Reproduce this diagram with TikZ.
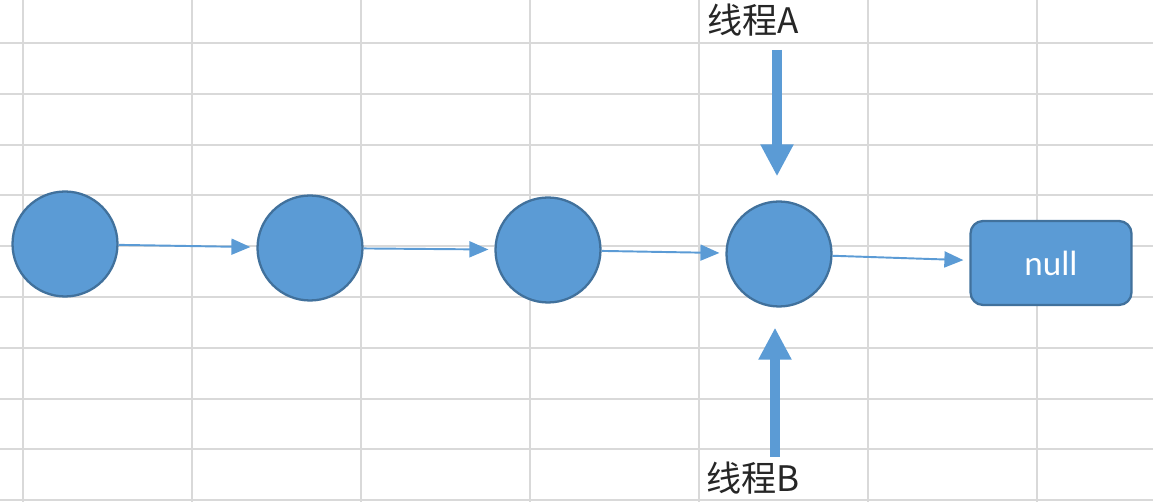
\documentclass[tikz,border=0pt]{standalone}
\usepackage{fontspec}
\setmainfont{Carlito}
\newfontfamily\cjk{Noto Sans CJK SC}
\usetikzlibrary{arrows.meta}
\definecolor{azul}{HTML}{5B9BD5}
\definecolor{borde}{HTML}{41719C}
\definecolor{rejilla}{HTML}{D9D9D9}
\begin{document}
\begin{tikzpicture}[x=0.02cm, y=-0.02cm, line join=round,
  nodo/.style={circle, fill=azul, draw=borde, line width=1.3pt, minimum size=2.1cm, inner sep=0pt},
  caja/.style={rectangle, rounded corners=0.25cm, fill=azul, draw=borde, line width=1.3pt,
    minimum width=3.22cm, minimum height=1.68cm, text=white, font=\fontsize{20}{24}\selectfont},
  hilo/.style={text=black!85, font=\cjk\fontsize{20}{24}\selectfont, inner sep=0pt},
  flecha/.style={azul, line width=1.1pt, -{Triangle[length=0.38cm, width=0.32cm]}, shorten >=0.12cm},
  grueso/.style={azul, line width=0.2cm, line cap=butt, -{Triangle[length=0.64cm, width=0.62cm]}}]
  \useasboundingbox (0,0) rectangle (1153,502);
  % la rejilla de la hoja de cálculo
  \foreach \x in {23,192,...,1040}
    \draw[rejilla, line width=1.2pt] (\x,0) -- (\x,502);
  \foreach \y in {43,93.8,...,501}
    \draw[rejilla, line width=1.2pt] (0,\y) -- (1153,\y);
  % la lista enlazada
  \node[nodo] (n1) at (65,244) {};
  \node[nodo] (n2) at (310,248) {};
  \node[nodo] (n3) at (548,250) {};
  \node[nodo] (n4) at (779,254) {};
  \node[caja] (nulo) at (1051,263) {null};
  \draw[flecha] (n1) -- (n2);
  \draw[flecha] (n2) -- (n3);
  \draw[flecha] (n3) -- (n4);
  \draw[flecha] (n4) -- (nulo);
  % los dos hilos
  \node[hilo] (hiloA) at (753,20) {线程A};
  \node[hilo] (hiloB) at (753,478) {线程B};
  \coordinate (inicioA) at (777,50);
  \coordinate (inicioB) at (775,457);
  \draw[grueso, shorten >=0.48cm] (inicioA) -- (inicioA |- n4.north);
  \draw[grueso, shorten >=0.4cm] (inicioB) -- (inicioB |- n4.south);
\end{tikzpicture}
\end{document}
